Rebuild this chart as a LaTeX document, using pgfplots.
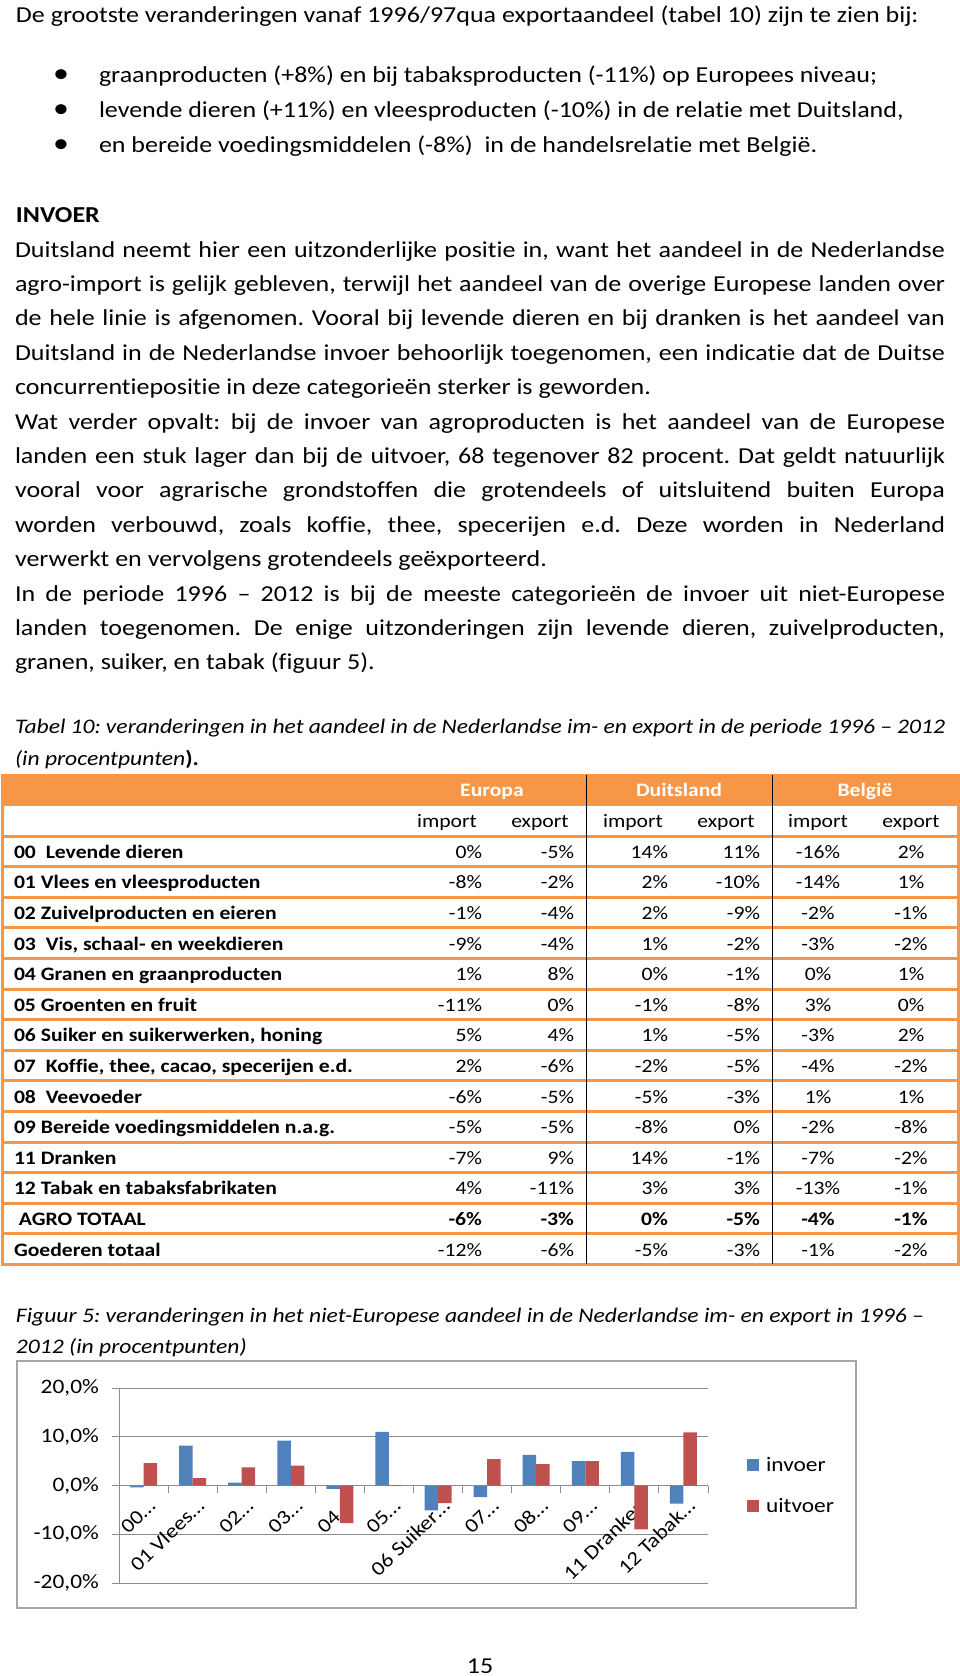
\documentclass[border=0pt]{standalone}
\usepackage{fontspec}
\setmainfont{Carlito}[FakeStretch=1.14, Ligatures=NoCommon]
\usepackage{pgfplots}
\pgfplotsset{compat=1.18}
\frenchspacing
\definecolor{orangeT}{HTML}{F79646}
\definecolor{barBlue}{HTML}{4F81BD}
\definecolor{barRed}{HTML}{C0504D}
\definecolor{gridC}{HTML}{8C8C8C}
\newcommand\bodyfont{\fontsize{22.8}{27}\selectfont}
\newcommand\capfont{\fontsize{20.7}{25}\selectfont\itshape}
\newcommand\tabfont{\fontsize{19}{23}\selectfont}
\newcommand\chfont{\fontsize{20.5}{24}\selectfont}
\newcommand\xlfont{\fontsize{20}{24}\selectfont}
\newcommand\tl[3]{\node[anchor=base west] at (#1,#2) {\bodyfont #3};}
\newcommand\jl[2]{\node[anchor=base west] at (15,#1) {\bodyfont\makebox[930pt][s]{#2}};}
\newcommand\trow[8]{%
  \pgfmathsetmacro\yb{858.3+30.6*#1}
  \node[anchor=base west] at (14,\yb) {\tabfont\bfseries #2};
  \node[anchor=base east] at (482,\yb) {\tabfont #3};
  \node[anchor=base east] at (574,\yb) {\tabfont #4};
  \node[anchor=base east] at (668,\yb) {\tabfont #5};
  \node[anchor=base east] at (760,\yb) {\tabfont #6};
  \node[anchor=base] at (818,\yb) {\tabfont #7};
  \node[anchor=base] at (911,\yb) {\tabfont #8};
}
\begin{document}
\begin{tikzpicture}
\fill[white] (0pt,0pt) rectangle (960pt,-1676pt);
\useasboundingbox (0pt,0pt) rectangle (960pt,-1676pt);
\begin{scope}[x=1pt,y=-1pt,every node/.style={inner sep=0pt,outer sep=0pt}]
\tl{16}{22}{De grootste veranderingen vanaf 1996/97qua exportaandeel (tabel 10) zijn te zien bij:}
\node[anchor=base] at (61,82) {\fontsize{28}{28}\selectfont •};
\node[anchor=base] at (61,117) {\fontsize{28}{28}\selectfont •};
\node[anchor=base] at (61,152) {\fontsize{28}{28}\selectfont •};
\tl{99}{82}{graanproducten (+8\%) en bij tabaksproducten (-11\%) op Europees niveau;}
\tl{99}{117}{levende dieren (+11\%) en vleesproducten (-10\%) in de relatie met Duitsland,}
\tl{99}{152}{en bereide voedingsmiddelen (-8\%) \ in de handelsrelatie met België.}
\tl{16}{222}{\bfseries INVOER}
\jl{257}{Duitsland neemt hier een uitzonderlijke positie in, want het aandeel in de Nederlandse}
\jl{291.4}{agro-import is gelijk gebleven, terwijl het aandeel van de overige Europese landen over}
\jl{325.8}{de hele linie is afgenomen. Vooral bij levende dieren en bij dranken is het aandeel van}
\jl{360.2}{Duitsland in de Nederlandse invoer behoorlijk toegenomen, een indicatie dat de Duitse}
\tl{15}{394.6}{concurrentiepositie in deze categorieën sterker is geworden.}
\jl{429}{Wat verder opvalt: bij de invoer van agroproducten is het aandeel van de Europese}
\jl{463.4}{landen een stuk lager dan bij de uitvoer, 68 tegenover 82 procent. Dat geldt natuurlijk}
\jl{497.8}{vooral voor agrarische grondstoffen die grotendeels of uitsluitend buiten Europa}
\jl{532.2}{worden verbouwd, zoals koffie, thee, specerijen e.d. Deze worden in Nederland}
\tl{15}{566.6}{verwerkt en vervolgens grotendeels geëxporteerd.}
\jl{601}{In de periode 1996 – 2012 is bij de meeste categorieën de invoer uit niet-Europese}
\jl{635.4}{landen toegenomen. De enige uitzonderingen zijn levende dieren, zuivelproducten,}
\tl{15}{669.8}{granen, suiker, en tabak (figuur 5).}
% table caption
\node[anchor=base west] at (15,733) {\capfont\makebox[930pt][s]{Tabel 10: veranderingen in het aandeel in de Nederlandse im- en export in de periode 1996 – 2012}};
\node[anchor=base west] at (15,765) {\capfont (in procentpunten\textbf{\upshape ).}};
% table
\fill[orangeT] (2,775) rectangle (958,806);
\foreach \i in {0,...,13} {\draw[orangeT,line width=3pt] (2,836+30.6*\i) -- (958,836+30.6*\i);}
\draw[orangeT,line width=3pt] (2,775) rectangle (958,1264);
\draw[black,line width=1pt] (586,775) -- (586,1264);
\draw[black,line width=1pt] (772,775) -- (772,1264);
\node[anchor=base] at (492,796.7) {\tabfont\bfseries\color{white}Europa};
\node[anchor=base] at (679,796.7) {\tabfont\bfseries\color{white}Duitsland};
\node[anchor=base] at (865,796.7) {\tabfont\bfseries\color{white}België};
\foreach \xx/\tt in {447/import,540/export,633/import,726/export,818/import,911/export}
  {\node[anchor=base] at (\xx,827.3) {\tabfont \tt};}
\trow{0}{00\ \ Levende dieren}{0\%}{-5\%}{14\%}{11\%}{-16\%}{2\%}
\trow{1}{01 Vlees en vleesproducten}{-8\%}{-2\%}{2\%}{-10\%}{-14\%}{1\%}
\trow{2}{02 Zuivelproducten en eieren}{-1\%}{-4\%}{2\%}{-9\%}{-2\%}{-1\%}
\trow{3}{03\ \ Vis, schaal- en weekdieren}{-9\%}{-4\%}{1\%}{-2\%}{-3\%}{-2\%}
\trow{4}{04 Granen en graanproducten}{1\%}{8\%}{0\%}{-1\%}{0\%}{1\%}
\trow{5}{05 Groenten en fruit}{-11\%}{0\%}{-1\%}{-8\%}{3\%}{0\%}
\trow{6}{06 Suiker en suikerwerken, honing}{5\%}{4\%}{1\%}{-5\%}{-3\%}{2\%}
\trow{7}{07\ \ Koffie, thee, cacao, specerijen e.d.}{2\%}{-6\%}{-2\%}{-5\%}{-4\%}{-2\%}
\trow{8}{08\ \ Veevoeder}{-6\%}{-5\%}{-5\%}{-3\%}{1\%}{1\%}
\trow{9}{09 Bereide voedingsmiddelen n.a.g.}{-5\%}{-5\%}{-8\%}{0\%}{-2\%}{-8\%}
\trow{10}{11 Dranken}{-7\%}{9\%}{14\%}{-1\%}{-7\%}{-2\%}
\trow{11}{12 Tabak en tabaksfabrikaten}{4\%}{-11\%}{3\%}{3\%}{-13\%}{-1\%}
\trow{12}{\ AGRO TOTAAL}{\textbf{-6\%}}{\textbf{-3\%}}{\textbf{0\%}}{\textbf{-5\%}}{\textbf{-4\%}}{\textbf{-1\%}}
\trow{13}{Goederen totaal}{-12\%}{-6\%}{-5\%}{-3\%\hspace{19pt}}{-1\%}{-2\%}
% figure caption
\node[anchor=base west] at (16,1322) {\capfont Figuur 5: veranderingen in het niet-Europese aandeel in de Nederlandse im- en export in 1996 –};
\node[anchor=base west] at (16,1353) {\capfont 2012 (in procentpunten)};
\draw[gray!70,line width=1.5pt] (17,1361) rectangle (856,1608);
\node[anchor=base] at (480,1673) {\bodyfont 15};
\end{scope}
\begin{axis}[
  at={(119pt,-1583pt)}, anchor=south west,
  scale only axis, width=589pt, height=195pt,
  xmin=-0.5, xmax=11.5, ymin=-20, ymax=20,
  axis x line*=middle, axis y line*=left,
  axis line style={gridC,line width=1pt},
  tick align=outside, major tick length=7pt, minor tick length=7pt,
  ytick={-20,-10,0,10,20},
  yticklabels={{-20,0\%},{-10,0\%},{0,0\%},{10,0\%},{20,0\%}},
  ymajorgrids, grid style={gridC,line width=1pt},
  y tick style={gridC,line width=1pt},
  xtick={0,...,11},
  xticklabels={00…,01 Vlees…,02…,03…,04…,05…,06 Suiker…,07…,08…,09…,11 Dranken,12 Tabak…},
  major x tick style={draw=none},
  minor xtick={-0.5,0.5,...,11.5},
  minor x tick style={gridC,line width=1pt},
  /pgf/number format/assume math mode=true,
  yticklabel style={font=\chfont, anchor=east, inner sep=0pt, xshift=-13pt},
  xticklabel style={font=\xlfont, inner sep=0pt, xshift=13pt, yshift=-15pt, rotate=44, anchor=base east},
  ybar=0pt, bar width=13.5pt,
  legend style={at={(1.066,0.5)}, anchor=west, draw=none, fill=none, font=\chfont,
    inner sep=0pt, row sep=26pt, nodes={inner sep=0pt}},
  legend cell align=left,
  legend image code/.code={\fill[#1] (0pt,-6pt) rectangle (12pt,6pt); \path (19pt,0pt);},
]
\addplot[fill=barBlue, draw=none] coordinates {
 (0,-0.4) (1,8.2) (2,0.6) (3,9.2) (4,-0.7) (5,11.0) (6,-5.1) (7,-2.4) (8,6.3) (9,5.0) (10,6.9) (11,-3.7)};
\addplot[fill=barRed, draw=none] coordinates {
 (0,4.6) (1,1.5) (2,3.7) (3,4.1) (4,-7.7) (5,0.1) (6,-3.6) (7,5.4) (8,4.4) (9,5.0) (10,-9.0) (11,10.9)};
\legend{invoer,uitvoer}
\end{axis}
\end{tikzpicture}
\end{document}
